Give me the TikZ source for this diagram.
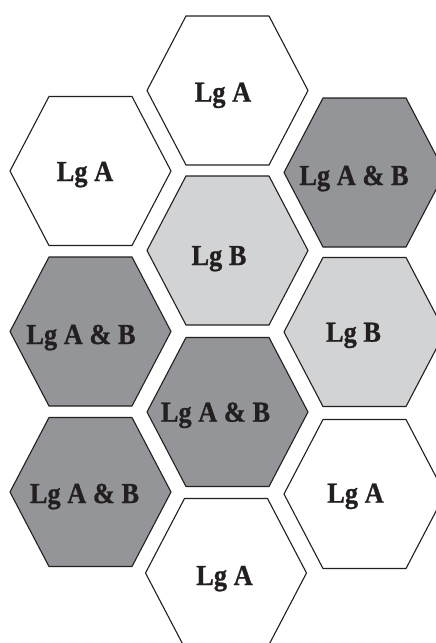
\documentclass[tikz,border=0pt]{standalone}
\usepackage{fontspec}
\setmainfont[FakeStretch=0.91, BoldFeatures={FakeBold=0.8}]{Liberation Serif}
\definecolor{hexdark}{HTML}{939598}
\definecolor{hexlight}{HTML}{D1D3D4}
\definecolor{ink}{HTML}{231F20}
\tikzset{
  hexbox/.style={draw=ink, line width=1.1pt, line join=miter},
  lbl/.style={font=\fontsize{29}{30}\selectfont\bfseries, text=ink, inner sep=0pt, anchor=base}
}
\newcommand\hexcell[4]{%
  \path[hexbox, fill=#3] ({#1-80.5},{#2}) -- ({#1-41.5},{#2-74.5}) -- ({#1+41.5},{#2-74.5})
    -- ({#1+80.5},{#2}) -- ({#1+41.5},{#2+74.5}) -- ({#1-41.5},{#2+74.5}) -- cycle;
  \coordinate (#4) at ({#1},{#2});
}
\begin{document}
\begin{tikzpicture}[x=1pt,y=-1pt]
\useasboundingbox (0,0) rectangle (436,643);
\clip (0,0) rectangle (436,643);
\hexcell{227.5}{90.5}{white}{c1}
\hexcell{90.5}{171}{white}{c2}
\hexcell{364.5}{172.5}{hexdark}{c3}
\hexcell{227.5}{250.5}{hexlight}{c4}
\hexcell{90.5}{331.5}{hexdark}{c5}
\hexcell{364.5}{332}{hexlight}{c6}
\hexcell{227.5}{412}{hexdark}{c7}
\hexcell{90.5}{492}{hexdark}{c8}
\hexcell{364.5}{494}{white}{c9}
\hexcell{226}{573}{white}{c10}
\node[lbl] (t1) at (223,101.7) {Lg A};
\node[lbl] (t2) at (85,181) {Lg A};
\node[lbl] (t3) at (354,185) {Lg A \& B};
\node[lbl] (t4) at (219,265) {Lg B};
\node[lbl] (t5) at (81,344) {Lg A \& B};
\node[lbl] (t6) at (353.5,341.7) {Lg B};
\node[lbl] (t7) at (215.5,421.7) {Lg A \& B};
\node[lbl] (t8) at (84.5,503) {Lg A \& B};
\node[lbl] (t9) at (355.5,502.7) {Lg A};
\node[lbl] (t10) at (224.5,585) {Lg A};
\end{tikzpicture}
\end{document}
